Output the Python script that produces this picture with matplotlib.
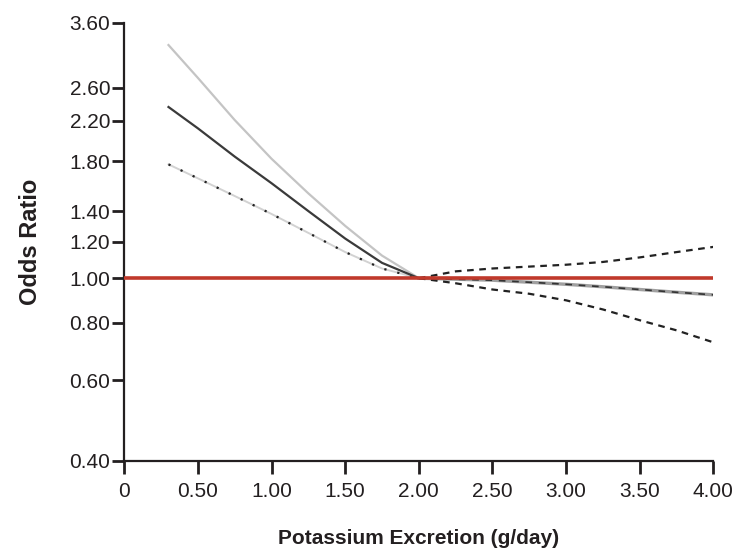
import matplotlib
matplotlib.use('Agg')
import matplotlib.pyplot as plt
from matplotlib.ticker import FixedLocator, NullLocator

# potassium excretion (g/day)
excretion = [0.3, 0.5, 0.75, 1.0, 1.25, 1.5, 1.75, 2.0,
             2.25, 2.5, 2.75, 3.0, 3.25, 3.5, 3.75, 4.0]
odds_ratio = [2.36, 2.12, 1.84, 1.61, 1.40, 1.22, 1.08, 1.00,
              0.995, 0.99, 0.98, 0.97, 0.958, 0.945, 0.932, 0.92]
upper_ci = [3.22, 2.73, 2.21, 1.82, 1.53, 1.30, 1.12, 1.00,
            1.035, 1.05, 1.06, 1.07, 1.085, 1.11, 1.14, 1.17]
lower_ci = [1.77, 1.65, 1.51, 1.38, 1.255, 1.14, 1.05, 1.00,
            0.975, 0.945, 0.925, 0.895, 0.855, 0.81, 0.77, 0.725]
ref_idx = 7  # reference point at 2.0 g/day

x_ticks = [0, 0.5, 1.0, 1.5, 2.0, 2.5, 3.0, 3.5, 4.0]
x_ticklabels = ['0', '0.50', '1.00', '1.50', '2.00', '2.50', '3.00', '3.50', '4.00']
y_ticks = [0.4, 0.6, 0.8, 1.0, 1.2, 1.4, 1.8, 2.2, 2.6, 3.6]
y_ticklabels = ['0.40', '0.60', '0.80', '1.00', '1.20', '1.40', '1.80', '2.20', '2.60', '3.60']

plt.rcParams['font.family'] = ['Liberation Sans', 'DejaVu Sans']

fig = plt.figure(figsize=(7.4, 5.56), dpi=100)
ax = fig.add_axes([0.168, 0.171, 0.796, 0.788])

L = slice(0, ref_idx + 1)
R = slice(ref_idx, None)

# left of reference
ax.plot(excretion[L], upper_ci[L], color='#c4c4c4', lw=1.6)
ax.plot(excretion[L], lower_ci[L], color='#d2d2d2', lw=1.4)
ax.plot(excretion[L], lower_ci[L], color='#222222', lw=1.6, linestyle=(0, (1, 5)))
ax.plot(excretion[L], odds_ratio[L], color='#3a3a3a', lw=1.6)

# right of reference
ax.plot(excretion[R], odds_ratio[R], color='#a0a0a0', lw=2.4)
ax.plot(excretion[R], odds_ratio[R], color='#333333', lw=1.2, linestyle=(0, (4, 4)))
ax.plot(excretion[R], upper_ci[R], color='#222222', lw=1.6, linestyle=(0, (3, 2.5)))
ax.plot(excretion[R], lower_ci[R], color='#222222', lw=1.6, linestyle=(0, (3, 2.5)))

ax.axhline(1.0, color='#c0392b', lw=2.6, zorder=5)

ax.set_yscale('log')
ax.set_ylim(0.4, 3.6)
ax.set_xlim(0, 4.0)
ax.yaxis.set_major_locator(FixedLocator(y_ticks))
ax.yaxis.set_minor_locator(NullLocator())
ax.set_yticklabels(y_ticklabels)
ax.set_xticks(x_ticks)
ax.set_xticklabels(x_ticklabels)

for side in ('top', 'right'):
    ax.spines[side].set_visible(False)
for side in ('left', 'bottom'):
    ax.spines[side].set_linewidth(1.6)
    ax.spines[side].set_color('#231f20')

ax.tick_params(axis='both', direction='out', length=9, width=2, color='#231f20',
               labelsize=15, labelcolor='#231f20')
ax.tick_params(axis='y', pad=1)
ax.tick_params(axis='x', pad=6)

ax.set_xlabel('Potassium Excretion (g/day)', fontsize=15, fontweight='bold',
              color='#231f20', labelpad=20)
ax.set_ylabel('Odds Ratio', fontsize=17, fontweight='bold', color='#231f20',
              labelpad=20)

fig.savefig('out.png', dpi=100)
